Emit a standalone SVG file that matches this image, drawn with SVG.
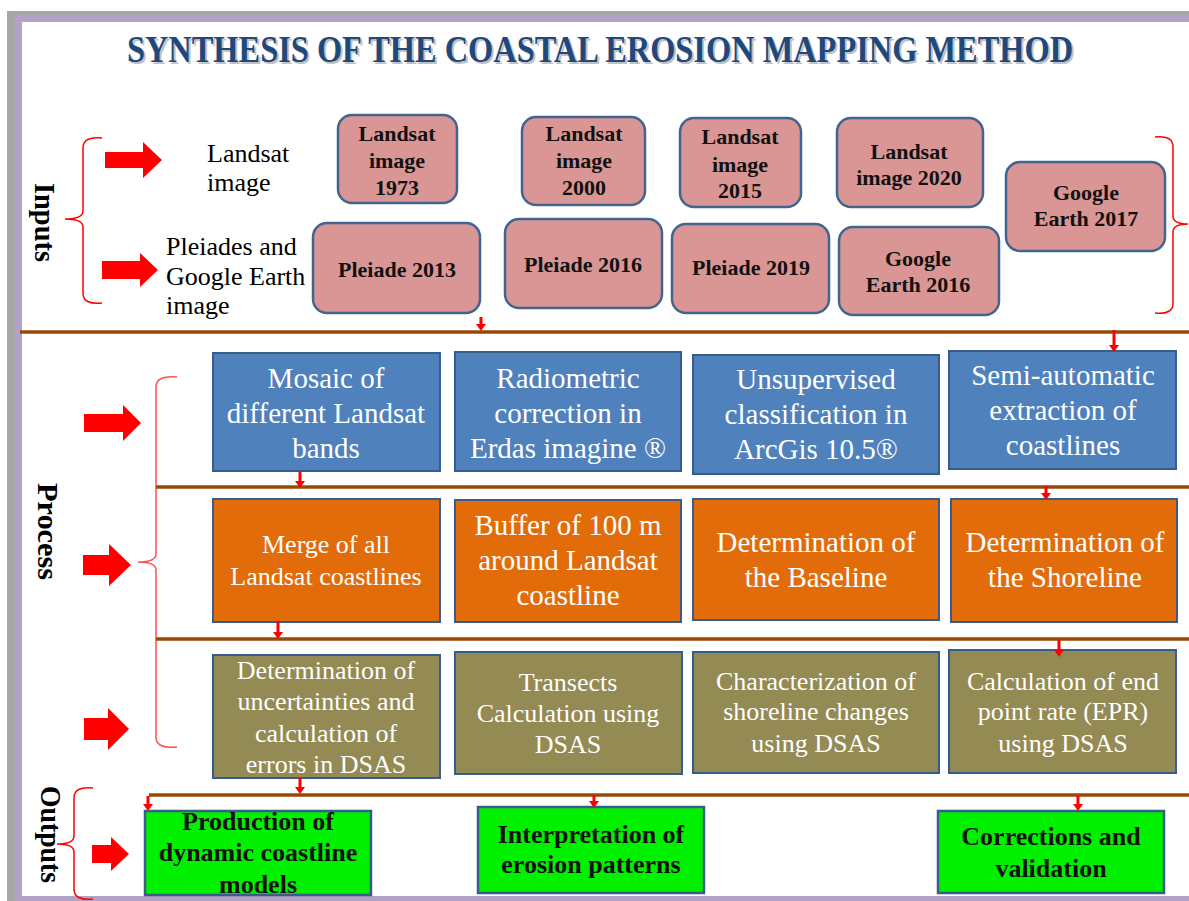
<svg xmlns="http://www.w3.org/2000/svg" width="1189" height="901" viewBox="0 0 1189 901">
<defs>
<style>
.pk{fill:#D99694;stroke:#41658F;stroke-width:2.5}
.bl{fill:#4F81BD;stroke:#385D8A;stroke-width:2}
.or{fill:#E36C0A;stroke:#385D8A;stroke-width:2}
.ol{fill:#948A54;stroke:#385D8A;stroke-width:2}
.gr{fill:#00F000;stroke:#385D8A;stroke-width:2.5}
.tp{font-family:"Liberation Serif",serif;font-weight:bold;font-size:22px;fill:#111;text-anchor:middle}
.tw{font-family:"Liberation Serif",serif;font-size:29px;fill:#fff;text-anchor:middle}
.tw2{font-family:"Liberation Serif",serif;font-size:26px;fill:#fff;text-anchor:middle}
.tg{font-family:"Liberation Serif",serif;font-weight:bold;font-size:26px;fill:#111;text-anchor:middle}
.tl{font-family:"Liberation Serif",serif;font-size:26px;fill:#000}
.sec{font-family:"Liberation Serif",serif;font-weight:bold;font-size:29px;fill:#000}
.ttl{font-family:"Liberation Serif",serif;font-weight:bold;font-size:32.4px;text-anchor:middle}
.sep{stroke:#984807;stroke-width:3.5;fill:none}
.con{stroke:#FF0000;stroke-width:3;fill:none;marker-end:url(#ah)}
.br{stroke:#FF0000;stroke-width:1.5;fill:none}
.ba{fill:#FF0000}
</style>
<marker id="ah" markerUnits="userSpaceOnUse" markerWidth="7" markerHeight="10" viewBox="0 0 7 10" refX="1" refY="5" orient="auto">
<path d="M0,0 L7,5 L0,10 z" fill="#FF0000"/>
</marker>
</defs>

<!-- frame -->
<rect x="7" y="11" width="1200" height="900" fill="#A6A6A6"/>
<rect x="15" y="15" width="1200" height="890" fill="#B3A2C7"/>
<rect x="22" y="22" width="1180" height="874" fill="#FFFFFF"/>

<!-- title -->
<g id="title">
<text class="ttl" transform="translate(602,64) scale(1,1.17)" x="0" y="0" fill="#8C8C8C" fill-opacity="0.55">SYNTHESIS OF THE COASTAL EROSION MAPPING METHOD</text>
<text class="ttl" transform="translate(600,62) scale(1,1.17)" x="0" y="0" fill="#1F497D">SYNTHESIS OF THE COASTAL EROSION MAPPING METHOD</text>
</g>

<!-- section labels -->
<text class="sec" transform="translate(35,183) rotate(90)" textLength="79" lengthAdjust="spacingAndGlyphs">Inputs</text>
<text class="sec" transform="translate(38,483) rotate(90)" textLength="97" lengthAdjust="spacingAndGlyphs">Process</text>
<text class="sec" transform="translate(41,786) rotate(90)" textLength="97" lengthAdjust="spacingAndGlyphs">Outputs</text>

<!-- braces -->
<path class="br" d="M102,138 Q83,136 83,148 L83,211 Q83,219 65,219 Q83,219 83,227 L83,293 Q83,305 102,303"/>
<path class="br" d="M1155,137 Q1173,135 1173,147 L1173,216 Q1173,224 1188,224 Q1173,224 1173,232 L1173,303 Q1173,315 1155,313"/>
<path class="br" style="stroke:#FF5050" d="M177,377 Q156,375 156,387 L156,554 Q156,562 138,562 Q156,562 156,570 L156,737 Q156,749 177,747"/>
<path class="br" d="M93,788 Q74,786 74,798 L74,836 Q74,844 57,844 Q74,844 74,852 L74,889 Q74,901 93,899"/>

<!-- block arrows -->
<polygon class="ba" points="105,152 143,152 143,142 162,160 143,178 143,168 105,168"/>
<polygon class="ba" points="102,261 140,261 140,253 158,270 140,287 140,279 102,279"/>
<polygon class="ba" points="84,414 123,414 123,405 141,423 123,441 123,432 84,432"/>
<polygon class="ba" points="83,555 109,555 109,544 131,565 109,586 109,575 83,575"/>
<polygon class="ba" points="84,718 108,718 108,708 129,729 108,750 108,740 84,740"/>
<polygon class="ba" points="92,845 111,845 111,837 129,854 111,871 111,863 92,863"/>

<!-- input labels -->
<text class="tl" x="207" y="162">Landsat</text>
<text class="tl" x="207" y="191">image</text>
<text class="tl" x="166" y="255">Pleiades and</text>
<text class="tl" x="166" y="285">Google Earth</text>
<text class="tl" x="166" y="314">image</text>

<!-- input nodes -->
<g id="landsat1973"><rect class="pk" x="338" y="115" width="119" height="88" rx="14"/>
<text class="tp" x="397" y="141">Landsat</text><text class="tp" x="397" y="168">image</text><text class="tp" x="397" y="195">1973</text></g>
<g id="landsat2000"><rect class="pk" x="522" y="117" width="123" height="88" rx="14"/>
<text class="tp" x="584" y="141">Landsat</text><text class="tp" x="584" y="168">image</text><text class="tp" x="584" y="195">2000</text></g>
<g id="landsat2015"><rect class="pk" x="680" y="118" width="121" height="89" rx="14"/>
<text class="tp" x="740" y="144">Landsat</text><text class="tp" x="740" y="172">image</text><text class="tp" x="740" y="198">2015</text></g>
<g id="landsat2020"><rect class="pk" x="837" y="118" width="146" height="89" rx="14"/>
<text class="tp" x="909" y="159">Landsat</text><text class="tp" x="909" y="185">image 2020</text></g>
<g id="ge2017"><rect class="pk" x="1006" y="162" width="159" height="89" rx="14"/>
<text class="tp" x="1086" y="200">Google</text><text class="tp" x="1086" y="226">Earth 2017</text></g>
<g id="pleiade2013"><rect class="pk" x="313" y="223" width="167" height="90" rx="14"/>
<text class="tp" x="397" y="277">Pleiade 2013</text></g>
<g id="pleiade2016"><rect class="pk" x="505" y="219" width="157" height="89" rx="14"/>
<text class="tp" x="583" y="272">Pleiade 2016</text></g>
<g id="pleiade2019"><rect class="pk" x="672" y="224" width="157" height="89" rx="14"/>
<text class="tp" x="751" y="275">Pleiade 2019</text></g>
<g id="ge2016"><rect class="pk" x="839" y="227" width="160" height="88" rx="14"/>
<text class="tp" x="918" y="266">Google</text><text class="tp" x="918" y="292">Earth 2016</text></g>

<!-- process row 1 -->
<g id="mosaic"><rect class="bl" x="213" y="353" width="227" height="118"/>
<text class="tw" x="326" y="388">Mosaic of</text><text class="tw" x="326" y="423">different Landsat</text><text class="tw" x="326" y="458">bands</text></g>
<g id="radiometric"><rect class="bl" x="455" y="352" width="226" height="119"/>
<text class="tw" x="568" y="388">Radiometric</text><text class="tw" x="568" y="423">correction in</text><text class="tw" x="568" y="458">Erdas imagine ®</text></g>
<g id="unsupervised"><rect class="bl" x="693" y="355" width="246" height="119"/>
<text class="tw" x="816" y="389">Unsupervised</text><text class="tw" x="816" y="424">classification in</text><text class="tw" x="816" y="459">ArcGis 10.5®</text></g>
<g id="semiautomatic"><rect class="bl" x="949" y="351" width="227" height="118"/>
<text class="tw" x="1063" y="385">Semi-automatic</text><text class="tw" x="1063" y="420">extraction of</text><text class="tw" x="1063" y="455">coastlines</text></g>

<!-- process row 2 -->
<g id="merge"><rect class="or" x="213" y="499" width="227" height="123"/>
<text class="tw2" x="326" y="553">Merge of all</text><text class="tw2" x="326" y="585">Landsat coastlines</text></g>
<g id="buffer"><rect class="or" x="455" y="500" width="226" height="122"/>
<text class="tw" x="568" y="535">Buffer of 100 m</text><text class="tw" x="568" y="570">around Landsat</text><text class="tw" x="568" y="605">coastline</text></g>
<g id="baseline"><rect class="or" x="693" y="499" width="246" height="121"/>
<text class="tw" x="816" y="552">Determination of</text><text class="tw" x="816" y="587">the Baseline</text></g>
<g id="shoreline"><rect class="or" x="951" y="499" width="226" height="123"/>
<text class="tw" x="1065" y="552">Determination of</text><text class="tw" x="1065" y="587">the Shoreline</text></g>

<!-- process row 3 -->
<g id="uncertainties"><rect class="ol" x="213" y="655" width="227" height="123"/>
<text class="tw2" x="326" y="679">Determination of</text><text class="tw2" x="326" y="710">uncertainties and</text><text class="tw2" x="326" y="742">calculation of</text><text class="tw2" x="326" y="773">errors in DSAS</text></g>
<g id="transects"><rect class="ol" x="455" y="652" width="227" height="122"/>
<text class="tw2" x="568" y="691">Transects</text><text class="tw2" x="568" y="722">Calculation using</text><text class="tw2" x="568" y="753">DSAS</text></g>
<g id="characterization"><rect class="ol" x="693" y="652" width="246" height="121"/>
<text class="tw2" x="816" y="690">Characterization of</text><text class="tw2" x="816" y="720">shoreline changes</text><text class="tw2" x="816" y="752">using DSAS</text></g>
<g id="epr"><rect class="ol" x="949" y="650" width="227" height="123"/>
<text class="tw2" x="1063" y="690">Calculation of end</text><text class="tw2" x="1063" y="720">point rate (EPR)</text><text class="tw2" x="1063" y="752">using DSAS</text></g>

<!-- outputs -->
<g id="production"><rect class="gr" x="145" y="811" width="226" height="84"/>
<text class="tg" x="258" y="830">Production of</text><text class="tg" x="258" y="861">dynamic coastline</text><text class="tg" x="258" y="893">models</text></g>
<g id="interpretation"><rect class="gr" x="478" y="807" width="226" height="86"/>
<text class="tg" x="591" y="843">Interpretation of</text><text class="tg" x="591" y="873">erosion patterns</text></g>
<g id="corrections"><rect class="gr" x="938" y="811" width="226" height="82"/>
<text class="tg" x="1051" y="845">Corrections and</text><text class="tg" x="1051" y="877">validation</text></g>

<!-- connectors -->
<g id="connectors">
<line class="sep" x1="20" y1="332" x2="1189" y2="332"/>
<line class="sep" x1="156" y1="487" x2="1189" y2="487"/>
<line class="sep" x1="156" y1="639" x2="1189" y2="639"/>
<line class="sep" x1="149" y1="795" x2="1189" y2="795"/>
<line class="con" x1="481" y1="317" x2="481" y2="325"/>
<line class="con" x1="1114" y1="330" x2="1114" y2="346"/>
<line class="con" x1="300" y1="471" x2="300" y2="482"/>
<line class="con" x1="1046" y1="486" x2="1046" y2="494"/>
<line class="con" x1="278" y1="621" x2="278" y2="633"/>
<line class="con" x1="1059" y1="640" x2="1059" y2="651"/>
<line class="con" x1="300" y1="778" x2="300" y2="788"/>
<line class="con" x1="148" y1="796" x2="148" y2="805"/>
<line class="con" x1="594" y1="795" x2="594" y2="802"/>
<line class="con" x1="1078" y1="796" x2="1078" y2="805"/>
</g>
</svg>
